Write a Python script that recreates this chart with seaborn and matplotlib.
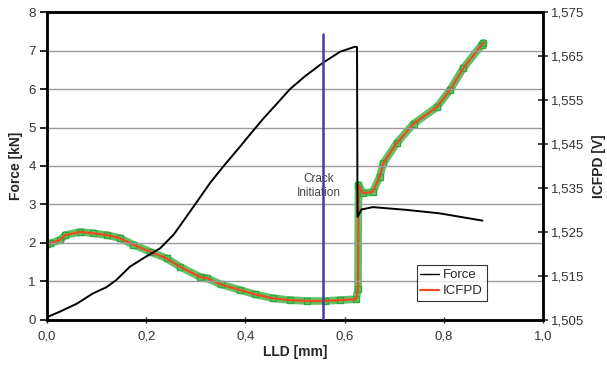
import matplotlib
matplotlib.use("Agg")
import matplotlib.pyplot as plt
from matplotlib.ticker import FuncFormatter, MultipleLocator
from matplotlib.lines import Line2D
import seaborn as sns
import pandas as pd

sns.set_style("white")
plt.rcParams['font.family'] = ['Liberation Sans', 'DejaVu Sans']

# Force vs LLD (kN)
lld_force = [0.0, 0.027, 0.06, 0.093, 0.12, 0.14, 0.167, 0.194, 0.228, 0.255, 0.281,
             0.305, 0.33, 0.355, 0.389, 0.41, 0.436, 0.46, 0.49, 0.52, 0.556, 0.591,
             0.621, 0.625, 0.626, 0.634, 0.657, 0.724, 0.791, 0.878]
force = [0.07, 0.22, 0.42, 0.69, 0.85, 1.04, 1.38, 1.6, 1.86, 2.21, 2.68,
         3.12, 3.58, 3.98, 4.5, 4.83, 5.23, 5.57, 6.0, 6.33, 6.68, 6.97,
         7.1, 7.09, 2.68, 2.87, 2.93, 2.86, 2.77, 2.58]

# ICFPD vs LLD (V)
lld_icfpd = [0.0, 0.007, 0.027, 0.037, 0.067, 0.093, 0.12, 0.147, 0.174, 0.208, 0.241,
             0.268, 0.308, 0.322, 0.35, 0.389, 0.42, 0.456, 0.49, 0.524, 0.56,
             0.591, 0.623, 0.627, 0.628, 0.637, 0.657, 0.671, 0.678, 0.705, 0.739,
             0.786, 0.812, 0.839, 0.876, 0.88]
icfpd = [1.5223, 1.5224, 1.5232, 1.5243, 1.5250, 1.5247, 1.5243, 1.5236, 1.5221, 1.5205, 1.5190,
         1.5171, 1.5148, 1.5145, 1.5131, 1.5118, 1.5108, 1.5099, 1.5095, 1.5093, 1.5093,
         1.5095, 1.5097, 1.5120, 1.5357, 1.5338, 1.5341, 1.5376, 1.5406, 1.5452, 1.5496,
         1.5534, 1.5572, 1.5622, 1.5675, 1.5680]

crack_lld = 0.556

df_f = pd.DataFrame({"LLD": lld_force, "Force": force})
df_i = pd.DataFrame({"LLD": lld_icfpd, "ICFPD": icfpd})

fig, ax = plt.subplots(figsize=(6.07, 3.66), dpi=100)
fig.subplots_adjust(left=0.0774, right=0.8946, top=0.967, bottom=0.126)

ax.set_xlim(0, 1.0)
ax.set_ylim(0, 8)
ax.yaxis.set_major_locator(MultipleLocator(1))
ax.xaxis.set_major_locator(MultipleLocator(0.2))
ax.grid(axis='y', color='#9a9a9a', lw=1.0)
ax.set_axisbelow(True)

ax2 = ax.twinx()
ax2.set_ylim(1.505, 1.575)
ax2.set_yticks([1.505, 1.515, 1.525, 1.535, 1.545, 1.555, 1.565, 1.575])

# ICFPD: green marker band with red line on top
sns.lineplot(data=df_i, x="LLD", y="ICFPD", ax=ax2, sort=False, estimator=None,
             color='#45b649', lw=5.5, alpha=0.85, legend=False)
ax2.plot(df_i["LLD"], df_i["ICFPD"], ls='none', marker='s', ms=4, mfc='none',
         mec='#2fa83c', mew=1)
sns.lineplot(data=df_i, x="LLD", y="ICFPD", ax=ax2, sort=False, estimator=None,
             color='#f04a23', lw=1.6, legend=False)

# Force
sns.lineplot(data=df_f, x="LLD", y="Force", ax=ax, sort=False, estimator=None,
             color='black', lw=1.4, legend=False)

ax.text(0.548, 3.48, "Crack\nInitiation", ha='center', va='center', fontsize=8.5,
        color='#444444', linespacing=1.2, zorder=3,
        bbox=dict(facecolor='white', edgecolor='none', pad=1.5))
ax.axvline(crack_lld, ymin=0, ymax=7.43 / 8, color='#4b3b9e', lw=1.8, zorder=4)

fmt1 = FuncFormatter(lambda v, p: f"{v:.1f}".replace('.', ','))
fmt0 = FuncFormatter(lambda v, p: f"{v:.0f}")
fmt3 = FuncFormatter(lambda v, p: f"{v:.3f}".replace('.', ','))
ax.xaxis.set_major_formatter(fmt1)
ax.yaxis.set_major_formatter(fmt0)
ax2.yaxis.set_major_formatter(fmt3)

ax.set_xlabel("LLD [mm]", fontsize=10, fontweight='bold', labelpad=2)
ax.set_ylabel("Force [kN]", fontsize=10, fontweight='bold', labelpad=4)
ax2.set_ylabel("ICFPD [V]", fontsize=10, fontweight='bold', labelpad=6)

ax.tick_params(axis='y', direction='out', length=5, width=1.2, labelsize=9.5,
               colors='black', left=True, pad=3)
ax.tick_params(axis='x', direction='inout', length=5, width=1.0, labelsize=9.5,
               bottom=True, pad=5)
ax2.tick_params(axis='y', direction='inout', length=7, width=1.2, labelsize=9.5,
                right=True, pad=2)
for a in (ax, ax2):
    for s in a.spines.values():
        s.set_color('black')
        s.set_linewidth(1.8)
    a.set_facecolor('none')
for t in ax.get_xticklabels() + ax.get_yticklabels() + ax2.get_yticklabels():
    t.set_color('#333333')

handles = [Line2D([], [], color='black', lw=1),
           Line2D([], [], color='#f04a23', lw=1.6)]
leg = ax.legend(handles, ["Force", "ICFPD"], loc='lower left',
                bbox_to_anchor=(0.745, 0.06), fontsize=9.5, frameon=True,
                fancybox=False, handlelength=1.4, handletextpad=0.3,
                borderpad=0.3, labelspacing=0.3, borderaxespad=0)
leg.get_frame().set_edgecolor('black')
leg.get_frame().set_linewidth(0.8)
leg.set_zorder(10)
ax.set_zorder(ax2.get_zorder() + 1)

fig.savefig("out.png", dpi=100)
